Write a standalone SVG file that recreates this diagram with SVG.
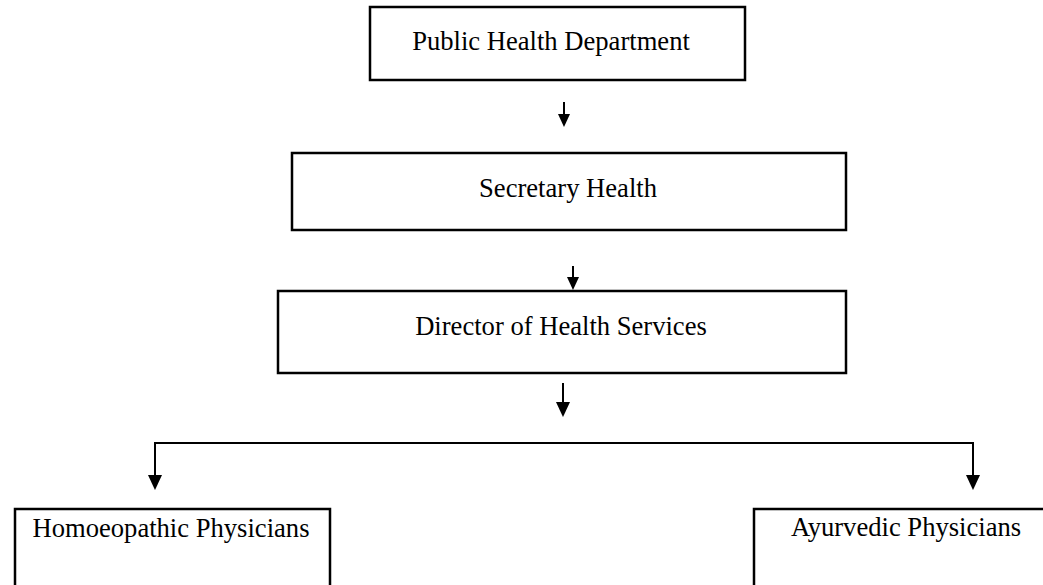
<svg xmlns="http://www.w3.org/2000/svg" width="1043" height="585" viewBox="0 0 1043 585">
<defs>
<style>
.box{fill:#fff;stroke:#000;stroke-width:2.5}
.lbl{font-family:"Liberation Serif","Times New Roman",serif;font-size:26.6px;fill:#000}
.con{fill:none;stroke:#000;stroke-width:2}
</style>
<marker id="ah" viewBox="0 0 10 10" refX="6.9" refY="5" markerWidth="13" markerHeight="12" markerUnits="userSpaceOnUse" preserveAspectRatio="none" orient="auto">
<path d="M0,0 L10,5 L0,10 z" fill="#000"/>
</marker>
<marker id="ahl" viewBox="0 0 10 10" refX="7.3" refY="5" markerWidth="15" markerHeight="14" markerUnits="userSpaceOnUse" preserveAspectRatio="none" orient="auto">
<path d="M0,0 L10,5 L0,10 z" fill="#000"/>
</marker>
</defs>
<rect width="1043" height="585" fill="#fff"/>
<g id="connectors">
<line class="con" x1="564" y1="102" x2="564" y2="123" marker-end="url(#ah)"/>
<line class="con" x1="573" y1="266" x2="573" y2="286" marker-end="url(#ah)"/>
<line class="con" x1="563" y1="383" x2="563" y2="413" marker-end="url(#ahl)"/>
<path class="con" d="M564,443 L155,443 L155,486" marker-end="url(#ahl)"/>
<path class="con" d="M564,443 L973,443 L973,486" marker-end="url(#ahl)"/>
</g>
<g id="public-health-department">
<rect class="box" x="370" y="7" width="375" height="73"/>
<text class="lbl" x="551" y="50" text-anchor="middle">Public Health Department</text>
</g>
<g id="secretary-health">
<rect class="box" x="292" y="153" width="554" height="77"/>
<text class="lbl" x="568" y="197" text-anchor="middle">Secretary Health</text>
</g>
<g id="director-health-services">
<rect class="box" x="278" y="291" width="568" height="82"/>
<text class="lbl" x="561" y="335" text-anchor="middle">Director of Health Services</text>
</g>
<g id="homoeopathic-physicians">
<path class="box" d="M15,590 L15,509 L330,509 L330,590"/>
<text class="lbl" x="171" y="537" text-anchor="middle">Homoeopathic Physicians</text>
</g>
<g id="ayurvedic-physicians">
<path class="box" d="M754,590 L754,509 L1050,509"/>
<text class="lbl" x="906" y="536" text-anchor="middle">Ayurvedic Physicians</text>
</g>
</svg>
